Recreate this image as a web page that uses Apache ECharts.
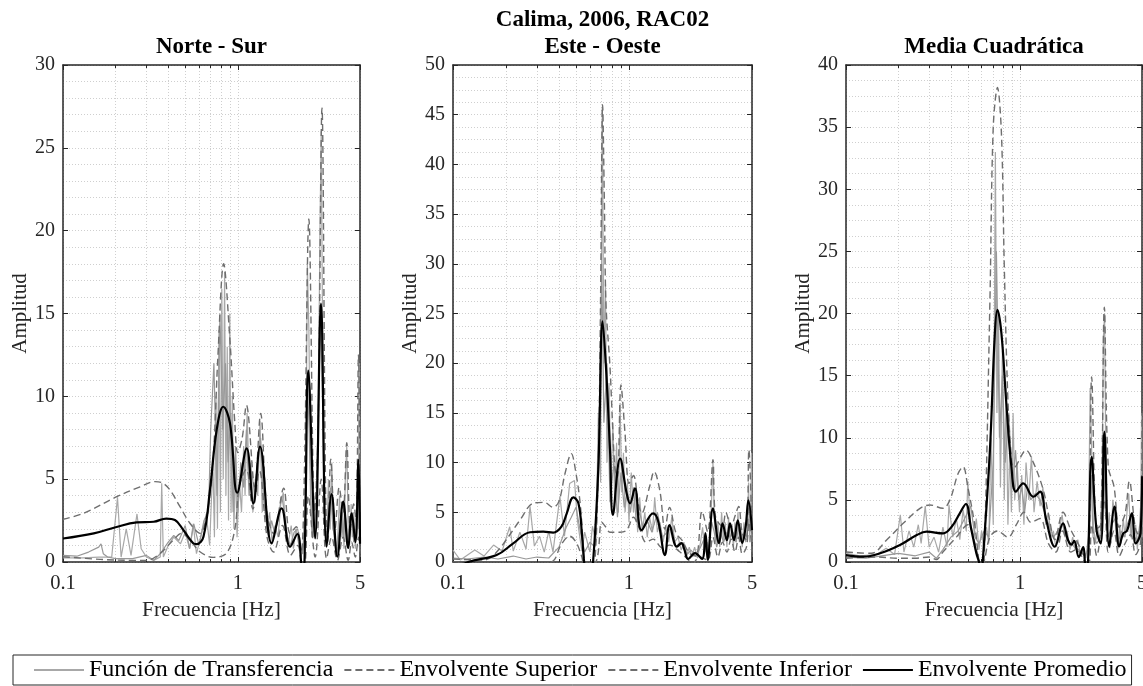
<!DOCTYPE html>
<html>
<head>
<meta charset="utf-8">
<script src="https://cdn.jsdelivr.net/npm/echarts@6/dist/echarts.min.js"></script>
<style>html,body{margin:0;padding:0;background:#fff}#c{width:1143px;height:686px}</style>
</head>
<body>
<div id="c"></div>
<script>
// ---------- text & ticks ----------
const MAIN_TITLE = 'Calima, 2006, RAC02';
const PANEL_TITLES = ['Norte - Sur', 'Este - Oeste', 'Media Cuadrática'];
const X_NAME = 'Frecuencia [Hz]';
const Y_NAME = 'Amplitud';
const LEGEND_NAMES = ['Función de Transferencia', 'Envolvente Superior', 'Envolvente Inferior', 'Envolvente Promedio'];
const X_MAJOR = [0.1, 1, 5];
const X_MINOR = [0.2, 0.3, 0.4, 0.5, 0.6, 0.7, 0.8, 0.9];
const X_MIN = 0.1, X_MAX = 5;
const Y_MAX = [30, 50, 40];
const Y_INTERVAL = 5;
const Y_MINOR_SPLIT = [5, 4, 4];

// ---------- Norte - Sur ----------
const NS_TF_A = [[0.1,0.25],[0.13,0.25],[0.16,0.3],[0.19,0.3],[0.205,3.9],[0.215,0.3],[0.23,2.0],[0.245,0.4],[0.265,2.9],[0.28,0.8],[0.3,0.3],[0.33,0.1],[0.36,0.3],[0.367,4.75],[0.375,0.3],[0.4,1.0],[0.43,1.5],[0.47,1.1],[0.5,1.8],[0.53,0.8],[0.556,2.3],[0.58,0.5],[0.62,1.7],[0.66,2.9],[0.69,1.0],[0.72,6],[0.735,1.5],[0.75,10],[0.765,2],[0.78,14],[0.795,3],[0.81,16.5],[0.825,5],[0.84,17.5],[0.855,4],[0.87,13],[0.885,2.5],[0.9,15],[0.915,3],[0.93,10],[0.95,2],[0.97,6],[0.99,1.5],[1.02,5],[1.05,3],[1.08,7],[1.1,4],[1.13,9],[1.16,5],[1.19,6],[1.22,3],[1.26,5],[1.3,4],[1.34,8.5],[1.38,3],[1.42,5],[1.47,2],[1.52,3],[1.57,1.2],[1.63,2.2],[1.7,1.5],[1.76,3.5],[1.82,4.2],[1.88,2],[1.95,1.2],[2.02,2.2],[2.08,0.8],[2.15,2],[2.22,1.2],[2.3,0.3],[2.38,1],[2.45,5],[2.5,18],[2.55,14],[2.6,6],[2.65,1.5],[2.72,4],[2.8,2],[2.88,8],[2.95,20],[3.0,26],[3.05,15],[3.1,6],[3.16,2],[3.22,1],[3.3,5],[3.38,2],[3.45,6],[3.52,2],[3.6,1],[3.68,0.5],[3.75,2],[3.82,4],[3.9,1.5],[3.98,3],[4.05,0.8],[4.12,5],[4.2,7],[4.28,2],[4.36,1],[4.45,3.5],[4.52,1.5],[4.6,3],[4.7,0.8],[4.8,4],[4.88,2],[4.95,12],[5,3]];
const NS_TF_B = [[0.1,0.4],[0.12,0.35],[0.14,0.6],[0.16,0.9],[0.165,1.1],[0.17,0.5],[0.18,0.3],[0.2,0.2],[0.25,0.2],[0.3,0.4],[0.33,0.1],[0.36,0.5],[0.4,1.2],[0.43,1.6],[0.46,1.3],[0.5,2.2],[0.53,0.8],[0.56,2.3],[0.6,1.0],[0.64,2.5],[0.68,3.0],[0.7,8],[0.73,12],[0.76,4],[0.79,15],[0.82,8],[0.85,12],[0.88,6],[0.91,9],[0.94,3],[0.97,7],[1.0,3],[1.04,6],[1.08,4.5],[1.12,8],[1.16,4],[1.2,5.5],[1.25,4],[1.3,6],[1.35,7.5],[1.4,4],[1.45,2.5],[1.5,1.5],[1.56,2.5],[1.62,1.8],[1.7,2.5],[1.78,4],[1.85,3],[1.92,1.5],[2.0,1],[2.1,1.8],[2.2,2],[2.28,1],[2.35,0.5],[2.42,3],[2.5,11],[2.56,8],[2.62,3],[2.7,1.5],[2.8,3],[2.9,10],[2.98,15],[3.05,10],[3.12,3],[3.2,1.5],[3.3,3],[3.4,4.5],[3.5,2],[3.6,1.5],[3.7,0.5],[3.8,2],[3.9,3],[4.0,1.5],[4.1,3],[4.2,2],[4.3,0.8],[4.4,2.5],[4.5,3],[4.6,1.2],[4.7,2],[4.8,1.5],[4.9,6],[5.0,2]];
const NS_UP = [[0.1,2.58],[0.131,2.94],[0.203,3.94],[0.276,4.54],[0.336,4.85],[0.374,4.75],[0.409,4.35],[0.467,3.34],[0.532,2.34],[0.607,1.73],[0.677,3.34],[0.724,6.36],[0.77,12.5],[0.83,18],[0.9,13.5],[0.96,8.5],[1.0,6.6],[1.06,7.5],[1.12,9.47],[1.25,4.54],[1.35,8.97],[1.47,2.94],[1.6,1.73],[1.83,4.45],[1.99,1.73],[2.16,2.13],[2.3,0.6],[2.4,5],[2.55,20.7],[2.75,3],[2.88,8],[3.03,27.4],[3.18,4],[3.27,1.2],[3.4,6.2],[3.6,2],[3.8,4.5],[4.0,3],[4.2,7.2],[4.4,2],[4.6,3.5],[4.75,2.5],[4.9,12.5],[5,4]];
const NS_LOW = [[0.1,0.32],[0.163,0.16],[0.25,0.1],[0.3,0.1],[0.36,0.52],[0.428,1.33],[0.477,1.73],[0.532,1.33],[0.607,0.62],[0.724,0.28],[0.86,0.52],[0.96,1.93],[1.02,4.6],[1.12,5.6],[1.22,3.2],[1.33,5.5],[1.47,1.5],[1.6,0.6],[1.8,2.2],[2.0,0.4],[2.2,1.0],[2.3,0],[2.38,-1],[2.45,0.5],[2.53,4],[2.77,0.3],[3.0,5],[3.22,0.2],[3.44,1.5],[3.71,0.1],[4.0,1.5],[4.28,0.1],[4.48,1.2],[4.7,0.3],[4.9,1.5],[5,0.5]];
const NS_MEAN = [[0.1,1.42],[0.15,1.73],[0.2,2.1],[0.264,2.39],[0.33,2.43],[0.39,2.62],[0.437,2.53],[0.488,1.93],[0.556,1.13],[0.582,1.08],[0.636,1.53],[0.693,4.35],[0.757,7.97],[0.826,9.37],[0.902,8.37],[0.993,4.18],[1.124,6.86],[1.227,3.54],[1.34,6.96],[1.563,1.13],[1.78,3.24],[1.99,0.92],[2.19,1.69],[2.3,0],[2.36,-2],[2.43,2],[2.53,11.55],[2.77,1.43],[2.99,15.6],[3.22,0.92],[3.44,4.1],[3.71,0.32],[4.01,3.64],[4.28,0.85],[4.48,2.94],[4.7,1.2],[4.9,6.16],[5,1.1]];

// ---------- Este - Oeste ----------
const EW_TF_A = [[0.1,1.2],[0.11,0.2],[0.133,1.2],[0.15,0.6],[0.17,1.7],[0.19,1.1],[0.21,3.55],[0.22,1.1],[0.24,3.0],[0.26,1.3],[0.274,5.6],[0.29,1.6],[0.31,2.6],[0.33,1.0],[0.35,3.1],[0.37,1.0],[0.405,6.6],[0.43,2.6],[0.46,7.9],[0.49,8.2],[0.51,4.1],[0.54,1.1],[0.56,3.0],[0.6,1.0],[0.62,3.6],[0.65,2],[0.67,15],[0.69,8],[0.705,45.8],[0.72,20],[0.735,28],[0.75,10],[0.77,18],[0.79,8],[0.81,14],[0.83,6],[0.85,12],[0.87,5],[0.89,16],[0.91,7],[0.93,11],[0.95,5],[0.98,8],[1.0,4],[1.03,9],[1.06,5],[1.09,7],[1.12,3],[1.15,6.5],[1.19,3],[1.23,5],[1.27,2.5],[1.31,4.5],[1.36,3],[1.4,6.5],[1.45,3],[1.5,4],[1.56,2],[1.62,3.5],[1.68,2],[1.75,4.5],[1.82,2],[1.9,2.5],[1.98,1.2],[2.05,2],[2.12,0.5],[2.2,1.5],[2.28,0.5],[2.36,1.5],[2.45,0.4],[2.55,2],[2.62,3.5],[2.7,1],[2.78,2],[2.85,0.7],[2.93,5],[3.0,10],[3.06,4],[3.12,2],[3.2,4],[3.28,1.5],[3.36,5],[3.44,2],[3.52,4],[3.6,1.5],[3.68,4.5],[3.76,2],[3.84,3.5],[3.92,1.5],[4.0,4],[4.08,2],[4.16,5],[4.24,2],[4.32,3.5],[4.4,1.5],[4.5,4],[4.6,2],[4.7,3],[4.78,8],[4.85,2],[4.92,5],[4.97,11],[5,3]];
const EW_TF_B = [[0.1,0.4],[0.12,0.3],[0.15,0.5],[0.18,0.3],[0.22,0.6],[0.26,0.3],[0.3,0.5],[0.35,0.4],[0.4,1.5],[0.44,3.5],[0.47,4.5],[0.5,5.5],[0.53,3],[0.56,1],[0.6,2],[0.64,1.5],[0.67,8],[0.7,30],[0.72,14],[0.75,20],[0.78,6],[0.82,10],[0.86,4.5],[0.9,9],[0.94,5.5],[0.98,7],[1.02,5],[1.06,7.5],[1.1,4],[1.15,5],[1.2,3.5],[1.28,4],[1.35,3],[1.45,5],[1.55,2.5],[1.65,3],[1.75,3.5],[1.85,1.5],[1.95,2],[2.05,1.5],[2.15,0.8],[2.25,1.2],[2.4,0.6],[2.55,1.5],[2.7,2.5],[2.8,0.8],[2.95,4],[3.05,3],[3.15,1.5],[3.3,3],[3.45,2],[3.6,3],[3.75,2.5],[3.9,3],[4.05,2],[4.2,3.5],[4.35,2],[4.5,3],[4.65,2.5],[4.8,4],[4.95,6],[5,2]];
const EW_UP = [[0.1,0.3],[0.15,0.2],[0.177,1.0],[0.24,4.2],[0.285,5.9],[0.33,6.0],[0.37,5.5],[0.4,6.1],[0.433,8.9],[0.47,10.9],[0.5,8.9],[0.53,5.6],[0.56,0],[0.6,-3],[0.64,0],[0.67,10],[0.69,27],[0.708,46],[0.725,36],[0.74,26],[0.78,19.6],[0.83,9.6],[0.86,8.5],[0.9,17.8],[0.95,12.9],[1.0,7.9],[1.06,8.7],[1.13,5.9],[1.18,4.9],[1.31,7.6],[1.39,9.1],[1.5,7.1],[1.6,3.3],[1.7,5.5],[1.85,2.9],[2.0,2.2],[2.2,0.9],[2.4,0.6],[2.6,5.1],[2.8,3],[3.0,10.3],[3.1,4.6],[3.4,3.6],[3.55,5.0],[3.8,3.5],[4.0,4.6],[4.2,5.6],[4.4,2.9],[4.65,2.2],[4.8,11.3],[5,2.9]];
const EW_LOW = [[0.1,0],[0.2,-0.2],[0.3,-0.2],[0.37,0.1],[0.41,1.7],[0.46,2.6],[0.5,2.0],[0.54,0.5],[0.56,-0.5],[0.65,0],[0.7,4],[0.74,3.5],[0.78,3],[0.89,3],[0.97,3.2],[1.06,4.5],[1.15,3.3],[1.25,2],[1.37,2.3],[1.55,1.4],[1.7,1.7],[1.95,1],[2.15,0.3],[2.3,-0.2],[2.5,0.5],[2.8,0.2],[3.0,2.5],[3.2,0.5],[3.4,2],[3.6,1],[3.8,2.3],[4.0,1],[4.2,2.5],[4.4,0.8],[4.65,1.5],[4.8,4],[5,1]];
const EW_MEAN = [[0.1,-0.8],[0.122,0],[0.177,0.7],[0.22,1.88],[0.274,2.99],[0.326,3.05],[0.371,2.95],[0.413,3.55],[0.443,4.9],[0.483,6.5],[0.516,5.9],[0.54,2.89],[0.556,0],[0.59,-3],[0.625,0],[0.67,9.6],[0.708,24.2],[0.74,19.6],[0.78,11.3],[0.81,4.73],[0.89,10.4],[0.97,6.9],[1.013,5.9],[1.08,7.4],[1.18,3.2],[1.37,4.9],[1.46,4.2],[1.6,0.7],[1.7,3.7],[1.87,1.54],[1.99,1.9],[2.06,1.3],[2.17,0.3],[2.37,0.9],[2.6,0.3],[2.72,2.9],[2.8,0.2],[3.0,5.4],[3.25,1.9],[3.4,3.9],[3.6,2.2],[3.75,3.9],[3.95,2.2],[4.15,4.2],[4.4,1.9],[4.6,3.5],[4.77,6.2],[5,3.2]];

// ---------- Media Cuadrática ----------
const MC_TF_A = [[0.1,0.7],[0.12,0.5],[0.15,0.6],[0.17,1.1],[0.19,0.6],[0.205,3.8],[0.215,0.8],[0.23,2.5],[0.245,1.2],[0.26,3.0],[0.27,1.5],[0.285,4.5],[0.3,1.2],[0.32,2.0],[0.34,0.8],[0.36,2.8],[0.38,1.2],[0.39,4.6],[0.41,2],[0.43,3.5],[0.45,1.8],[0.47,4.2],[0.49,2.5],[0.5,6.5],[0.52,3],[0.54,2],[0.56,3.5],[0.58,1],[0.6,2.5],[0.62,1.0],[0.64,2.8],[0.66,1.5],[0.68,10],[0.7,3],[0.72,33],[0.735,12],[0.75,20],[0.77,6],[0.79,17],[0.81,5],[0.83,14],[0.85,3],[0.87,9],[0.89,4],[0.91,12],[0.93,5],[0.96,8],[0.99,4],[1.02,7],[1.05,3],[1.08,8],[1.12,5],[1.16,8.5],[1.2,4],[1.25,6.5],[1.3,4.5],[1.35,6],[1.4,3],[1.45,4],[1.5,2],[1.55,2.5],[1.6,1.2],[1.67,2.5],[1.74,3.8],[1.8,2],[1.86,2.5],[1.93,1],[2.0,2],[2.07,1],[2.14,1.8],[2.22,0.5],[2.3,1.2],[2.38,0.3],[2.46,2],[2.52,14],[2.57,9],[2.63,3],[2.7,1.5],[2.78,3],[2.86,1.5],[2.95,6],[3.0,18],[3.05,20],[3.1,8],[3.16,2],[3.24,4],[3.32,1.5],[3.4,5],[3.48,4],[3.56,2],[3.64,1],[3.72,3],[3.8,1.5],[3.9,3.5],[4.0,2],[4.1,4],[4.2,5.5],[4.3,2],[4.4,4],[4.5,1.5],[4.6,3],[4.7,1],[4.8,2.5],[4.9,1.5],[4.97,12],[5,2]];
const MC_TF_B = [[0.1,0.4],[0.13,0.3],[0.16,0.5],[0.2,0.7],[0.25,0.5],[0.3,0.8],[0.33,0.3],[0.36,1.0],[0.4,2.0],[0.44,2.5],[0.48,3.5],[0.52,4.5],[0.55,2.0],[0.58,1.5],[0.62,2.5],[0.66,2.0],[0.7,8],[0.73,25],[0.76,10],[0.79,15],[0.82,8],[0.86,12],[0.9,6],[0.94,9],[0.98,5],[1.02,6],[1.06,4],[1.1,6],[1.15,5],[1.22,5.5],[1.3,5],[1.38,4],[1.46,3],[1.55,2],[1.65,2.5],[1.75,3],[1.85,1.8],[1.95,1.5],[2.05,1.2],[2.15,1],[2.25,0.8],[2.35,0.5],[2.45,1],[2.55,7],[2.62,2],[2.75,1.5],[2.9,2],[3.0,9],[3.08,4],[3.2,2],[3.35,3],[3.5,3.5],[3.65,1.5],[3.8,2.5],[3.95,2],[4.1,3],[4.25,3.5],[4.4,2],[4.55,2],[4.7,1.5],[4.85,3],[4.97,6],[5,2]];
const MC_UP = [[0.1,0.8],[0.14,0.7],[0.171,1.77],[0.213,3.11],[0.266,4.32],[0.303,4.59],[0.36,4.32],[0.395,5.0],[0.44,7.13],[0.47,7.67],[0.5,6.06],[0.55,2.84],[0.58,0],[0.6,-1],[0.62,0],[0.67,21],[0.7,35],[0.74,38.2],[0.78,34.5],[0.81,23.8],[0.85,13],[0.89,8.4],[0.92,7.6],[1.08,9.0],[1.19,8.0],[1.35,5.9],[1.45,3.9],[1.58,1.8],[1.76,4.0],[1.95,2.6],[2.2,1.2],[2.3,0.6],[2.45,0.5],[2.57,14.9],[2.75,2.7],[2.9,3],[3.04,20.5],[3.2,7.7],[3.45,6.1],[3.7,2.8],[4.0,3.9],[4.23,6.5],[4.6,2.6],[4.9,2],[5,12]];
const MC_LOW = [[0.1,0.3],[0.15,0.4],[0.2,0.3],[0.25,0.3],[0.3,0.4],[0.33,0.2],[0.36,0.8],[0.43,2.0],[0.5,3.0],[0.55,1.5],[0.58,0],[0.6,-0.5],[0.62,0],[0.67,2],[0.74,2.5],[0.85,2],[0.95,3],[1.05,4],[1.15,3.2],[1.3,3.5],[1.45,1.5],[1.6,0.8],[1.75,2.5],[1.95,0.8],[2.1,1],[2.3,0.2],[2.4,-0.5],[2.5,0],[2.57,3],[2.75,0.5],[3.04,5],[3.2,0.8],[3.45,2.5],[3.7,0.5],[4.0,1.5],[4.3,2.2],[4.6,0.6],[4.9,1.5],[5,3]];
const MC_MEAN = [[0.1,0.56],[0.126,0.43],[0.157,0.7],[0.204,1.37],[0.255,2.17],[0.29,2.44],[0.361,2.3],[0.404,2.84],[0.45,3.92],[0.488,4.67],[0.52,2.84],[0.56,0.7],[0.58,0],[0.6,-1.2],[0.61,0.1],[0.67,9.0],[0.715,18.4],[0.74,20.3],[0.78,18.4],[0.83,13.0],[0.89,7.67],[0.945,5.66],[1.04,6.33],[1.19,5.25],[1.3,5.66],[1.41,3.38],[1.58,1.23],[1.76,3.11],[1.88,1.77],[1.97,1.4],[2.04,1.7],[2.17,0.4],[2.3,1.2],[2.35,0],[2.4,-1],[2.45,0],[2.57,8.47],[2.74,2.57],[2.9,1.5],[3.04,10.5],[3.24,1.25],[3.48,4.45],[3.7,1.25],[3.9,2.3],[4.1,2.5],[4.37,3.92],[4.6,1.5],[4.9,2.3],[5,6.9]];

const PANELS = [
  {tfA: NS_TF_A, tfB: NS_TF_B, up: NS_UP, low: NS_LOW, mean: NS_MEAN},
  {tfA: EW_TF_A, tfB: EW_TF_B, up: EW_UP, low: EW_LOW, mean: EW_MEAN},
  {tfA: MC_TF_A, tfB: MC_TF_B, up: MC_UP, low: MC_LOW, mean: MC_MEAN}
];

// ---------- layout / style ----------
const FONT = "'Liberation Serif','Times New Roman',serif";
const AX = '#262626';
const GRID_COLOR = '#cfcfcf';
const GRIDS = [{left: 63, width: 297}, {left: 453, width: 299}, {left: 846, width: 296}];
const G_TOP = 65, G_H = 497;
const C_TF_A = '#a8a8a8', C_TF_B = '#989898', C_ENV = '#6e6e6e', C_MEAN = '#000000';

const grid = [], xAxis = [], yAxis = [], series = [], graphic = [];
const axLine = {show: true, onZero: false, lineStyle: {color: AX, width: 1.5}};
const dotted = {show: true, lineStyle: {color: GRID_COLOR, width: 1, type: [1, 2]}};
const fmt = v => String(+(+v).toPrecision(6));

GRIDS.forEach((g, i) => {
  grid.push({left: g.left, top: G_TOP, width: g.width, height: G_H, containLabel: false, outerBoundsMode: 'none'});
  const baseX = {type: 'log', logBase: 10, min: X_MIN, max: X_MAX, gridIndex: i, axisLine: axLine};
  xAxis.push(Object.assign({}, baseX, {
    position: 'bottom',
    axisTick: {show: true, inside: true, length: 5, customValues: X_MAJOR, lineStyle: {color: AX, width: 1}},
    axisLabel: {show: true, customValues: X_MAJOR, formatter: fmt, margin: 11, fontSize: 20.5, fontFamily: FONT, color: AX},
    splitLine: dotted,
    name: X_NAME, nameLocation: 'middle', nameGap: 37,
    nameTextStyle: {fontSize: 21.5, fontFamily: FONT, color: AX}
  }));
  xAxis.push(Object.assign({}, baseX, {
    position: 'bottom', axisLine: {show: false, onZero: false},
    axisTick: {show: true, inside: true, length: 3, customValues: X_MINOR, lineStyle: {color: AX, width: 1}},
    axisLabel: {show: false}, splitLine: dotted
  }));
  xAxis.push(Object.assign({}, baseX, {
    position: 'top',
    axisTick: {show: true, inside: true, length: 5, customValues: X_MAJOR, lineStyle: {color: AX, width: 1}},
    axisLabel: {show: false}, splitLine: {show: false}
  }));
  xAxis.push(Object.assign({}, baseX, {
    position: 'top', axisLine: {show: false, onZero: false},
    axisTick: {show: true, inside: true, length: 3, customValues: X_MINOR, lineStyle: {color: AX, width: 1}},
    axisLabel: {show: false}, splitLine: {show: false}
  }));
  const baseY = {type: 'value', min: 0, max: Y_MAX[i], interval: Y_INTERVAL, gridIndex: i, axisLine: axLine};
  yAxis.push(Object.assign({}, baseY, {
    position: 'left',
    axisTick: {show: true, inside: true, length: 5, lineStyle: {color: AX, width: 1}},
    axisLabel: {show: true, margin: 8, fontSize: 20, fontFamily: FONT, color: AX},
    splitLine: dotted,
    minorTick: {show: false, splitNumber: Y_MINOR_SPLIT[i]},
    minorSplitLine: dotted,
    name: Y_NAME, nameLocation: 'middle', nameGap: 32,
    nameTextStyle: {fontSize: 21, fontFamily: FONT, color: AX}
  }));
  yAxis.push(Object.assign({}, baseY, {
    position: 'right',
    axisTick: {show: true, inside: true, length: 5, lineStyle: {color: AX, width: 1}},
    axisLabel: {show: false}, splitLine: {show: false}
  }));

  const P = PANELS[i];
  const common = {type: 'line', xAxisIndex: 4 * i, yAxisIndex: 2 * i, symbol: 'none', showSymbol: false, silent: true, animation: false, clip: true};
  series.push(Object.assign({}, common, {name: LEGEND_NAMES[0], data: P.tfA, itemStyle: {color: C_TF_A}, lineStyle: {color: C_TF_A, width: 1.2}}));
  series.push(Object.assign({}, common, {name: LEGEND_NAMES[0], data: P.tfB, itemStyle: {color: C_TF_B}, lineStyle: {color: C_TF_B, width: 1.2}}));
  series.push(Object.assign({}, common, {name: LEGEND_NAMES[1], data: P.up, smooth: 0.35, itemStyle: {color: C_ENV}, lineStyle: {color: C_ENV, width: 1.4, type: [7, 4]}}));
  series.push(Object.assign({}, common, {name: LEGEND_NAMES[2], data: P.low, smooth: 0.35, itemStyle: {color: C_ENV}, lineStyle: {color: C_ENV, width: 1.4, type: [7, 4]}}));
  series.push(Object.assign({}, common, {name: LEGEND_NAMES[3], data: P.mean, smooth: 0.4, itemStyle: {color: C_MEAN}, lineStyle: {color: C_MEAN, width: 2.2}}));

  graphic.push({type: 'text', x: g.left + g.width / 2, y: 47, silent: true,
    style: {text: PANEL_TITLES[i], fontSize: 23, fontWeight: 'bold', fontFamily: FONT, fill: '#000', align: 'center', verticalAlign: 'middle'}});
});
graphic.push({type: 'text', x: GRIDS[1].left + GRIDS[1].width / 2, y: 20, silent: true,
  style: {text: MAIN_TITLE, fontSize: 23, fontWeight: 'bold', fontFamily: FONT, fill: '#000', align: 'center', verticalAlign: 'middle'}});

const chart = echarts.init(document.getElementById('c'), null, {renderer: 'canvas'});
chart.setOption({
  backgroundColor: '#ffffff',
  animation: false,
  grid, xAxis, yAxis, series, graphic,
  legend: {
    data: LEGEND_NAMES, left: 13, top: 655, orient: 'horizontal',
    itemWidth: 50, itemHeight: 14, itemGap: 10,
    padding: [3, 5, 3, 20],
    borderColor: AX, borderWidth: 1, backgroundColor: '#fff',
    itemStyle: {opacity: 0},
    textStyle: {fontSize: 24, fontFamily: FONT, color: '#000'},
    selectedMode: false
  }
});
</script>
</body>
</html>
